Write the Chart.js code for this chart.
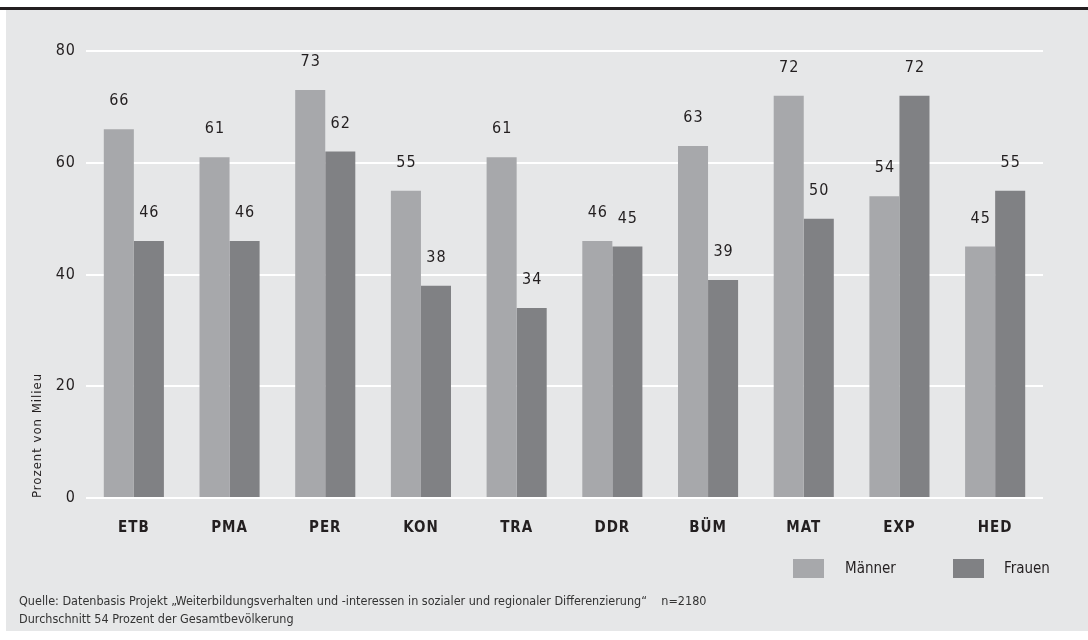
<!DOCTYPE html>
<html>
<head>
<meta charset="utf-8">
<script src="https://cdn.jsdelivr.net/npm/chart.js@4"></script>
<style>
  body { margin: 0; background: #fff; width: 1088px; height: 640px; position: relative; overflow: hidden;
         font-family: 'DejaVu Sans Condensed', 'Liberation Sans Narrow', sans-serif; color: #231f20; }
  #rule { position: absolute; left: 0; top: 7px; width: 1088px; height: 3px; background: #231f20; }
  #panel { position: absolute; left: 6px; top: 10px; width: 1082px; height: 621px; background: #e6e7e8; }
  #chart { position: absolute; left: 0; top: 0; }
  .sw { position: absolute; width: 31px; height: 19px; top: 559px; }
  .lt { position: absolute; top: 558px; font-size: 15px; line-height: 20px; }
  .foot { position: absolute; left: 19px; font-size: 12.5px; color: #333; white-space: pre; }
</style>
</head>
<body>
<div id="rule"></div>
<div id="panel"></div>
<canvas id="chart" width="1088" height="640"></canvas>
<div id="legend"></div>
<div class="foot" style="top:593px">Quelle: Datenbasis Projekt „Weiterbildungsverhalten und -interessen in sozialer und regionaler Differenzierung“    n=2180</div>
<div class="foot" style="top:611px">Durchschnitt 54 Prozent der Gesamtbevölkerung</div>
<script>
// Daten
const categories = ['ETB', 'PMA', 'PER', 'KON', 'TRA', 'DDR', 'BÜM', 'MAT', 'EXP', 'HED'];
const maenner = [66, 61, 73, 55, 61, 46, 63, 72, 54, 45];
const frauen = [46, 46, 62, 38, 34, 45, 39, 50, 72, 55];
const yTicks = [0, 20, 40, 60, 80];

const FONT = "'DejaVu Sans Condensed', 'Liberation Sans Narrow', sans-serif";
const seriesNames = ['Männer', 'Frauen'];
const seriesColors = ['#a7a8ab', '#808184'];

// Legende (HTML, unten rechts)
const legend = document.getElementById('legend');
const legendX = [[793, 845], [953, 1004]];
seriesNames.forEach(function(name, i) {
    const sw = document.createElement('div');
    sw.className = 'sw';
    sw.style.left = legendX[i][0] + 'px';
    sw.style.background = seriesColors[i];
    legend.appendChild(sw);
    const t = document.createElement('div');
    t.className = 'lt';
    t.style.left = legendX[i][1] + 'px';
    t.textContent = name;
    legend.appendChild(t);
});

// Werte ueber den Balken
const valueLabels = {
    id: 'valueLabels',
    afterDatasetsDraw(chart) {
        const ctx = chart.ctx;
        ctx.save();
        ctx.font = '16px ' + FONT;
        ctx.fillStyle = '#231f20';
        ctx.textAlign = 'center';
        ctx.textBaseline = 'middle';
        ctx.letterSpacing = '1px';
        chart.data.datasets.forEach(function(ds, di) {
            chart.getDatasetMeta(di).data.forEach(function(bar, i) {
                ctx.fillText(String(ds.data[i]), bar.x + 0.5, bar.y - 28);
            });
        });
        ctx.restore();
    }
};

const spacing = {
    id: 'spacing',
    beforeDraw(chart) { chart.ctx.letterSpacing = '1px'; }
};

const ctx = document.getElementById('chart').getContext('2d');
new Chart(ctx, {
    type: 'bar',
    data: {
        labels: categories,
        datasets: [
            { label: seriesNames[0], data: maenner, backgroundColor: seriesColors[0] },
            { label: seriesNames[1], data: frauen, backgroundColor: seriesColors[1] }
        ]
    },
    options: {
        responsive: false,
        animation: false,
        devicePixelRatio: 1,
        layout: { padding: { left: 0, top: 51, right: 45, bottom: 0 } },
        datasets: { bar: { categoryPercentage: 0.628, barPercentage: 1.0, borderWidth: 0 } },
        plugins: { legend: { display: false }, tooltip: { enabled: false } },
        scales: {
            x: {
                grid: { display: false, drawTicks: false },
                border: { display: false },
                ticks: { color: '#231f20', font: { family: FONT, size: 15, weight: 'bold' }, padding: 21, maxRotation: 0 },
                afterFit(scale) { scale.height = 142; }
            },
            y: {
                min: 0,
                max: 80,
                afterBuildTicks(scale) { scale.ticks = yTicks.map(v => ({ value: v })); },
                grid: { color: '#ffffff', lineWidth: 2, drawTicks: false },
                border: { display: false },
                ticks: { color: '#231f20', font: { family: FONT, size: 16 }, padding: 10 },
                title: {
                    display: true,
                    text: 'Prozent von Milieu',
                    align: 'start',
                    color: '#231f20',
                    font: { family: FONT, size: 13 },
                    padding: { top: 30, bottom: 0 }
                },
                afterFit(scale) { scale.width = 86; }
            }
        }
    },
    plugins: [spacing, valueLabels]
});
</script>
</body>
</html>
